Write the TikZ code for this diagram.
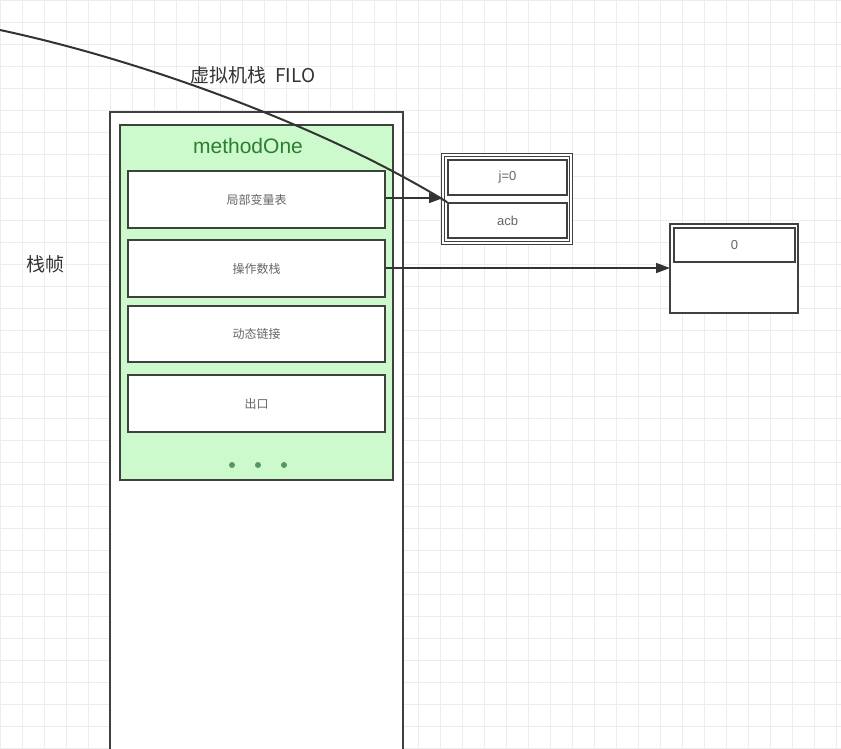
\documentclass[tikz,border=0pt]{standalone}
\usepackage{fontspec}
\setmainfont{Liberation Sans}
\newfontfamily\cjk{Noto Sans CJK SC}
\usetikzlibrary{arrows.meta}
\definecolor{gfill}{HTML}{CCFACC}
\definecolor{gtext}{HTML}{2E7D32}
\tikzset{
  box/.style={draw=black!75,line width=1.6pt,fill=white},
  cell/.style={draw=black!75,line width=1.6pt,fill=white,inner sep=0pt,font=\cjk\fontsize{12}{14}\selectfont,text=black!60},
  arr/.style={draw=black!80,line width=1.5pt,-{Triangle[length=14pt,width=10pt]}},
}
\begin{document}
\begin{tikzpicture}[x=1pt,y=-1pt]
\useasboundingbox (0,0) rectangle (841,748);
\foreach \g in {0,22,...,840} \draw[black!7] (\g,0) -- (\g,748);
\foreach \g in {0,22,...,748} \draw[black!7] (0,\g) -- (841,\g);
% outer stack
\draw[box,line width=2pt] (110,112) rectangle (403,752);
\node[font=\cjk\fontsize{19}{22}\selectfont,text=black!80] (title) at (253,75) {虚拟机栈\ \ FILO};
\node[font=\cjk\fontsize{19}{22}\selectfont,text=black!80] (frame) at (46,264) {栈帧};
\draw[draw=black!75,line width=2pt,fill=gfill] (120,125) rectangle (393,480);
\node[font=\fontsize{21}{24}\selectfont,text=gtext] (m) at (248,146) {methodOne};
\node[cell,minimum width=257pt,minimum height=57pt] (lv) at (256.5,199.5) {局部变量表};
\node[cell,minimum width=257pt,minimum height=57pt] (os) at (256.5,268.5) {操作数栈};
\node[cell,minimum width=257pt,minimum height=56pt] (dl) at (256.5,334) {动态链接};
\node[cell,minimum width=257pt,minimum height=57pt] (ex) at (256.5,403.5) {出口};
\foreach \x in {232,258,284} \fill[gtext!80] (\x,465) circle (3pt);
% array box
\draw[box,double=white,double distance=2pt,line width=1.2pt] (443,155) rectangle (571,243);
\node[cell,font=\fontsize{13}{15}\selectfont,minimum width=119pt,minimum height=35pt] (j) at (507.5,177.5) {j=0};
\node[cell,font=\fontsize{13}{15}\selectfont,minimum width=119pt,minimum height=35pt] (acb) at (507.5,220.5) {acb};
% operand stack box
\draw[box,line width=2pt] (670,224) rectangle (798,313);
\node[cell,font=\fontsize{13}{15}\selectfont,minimum width=121pt,minimum height=34pt] (z) at (734.5,245) {0};
\coordinate (a1) at (443,198);
\coordinate (a2) at (670,268);
\draw[arr] (lv.east |- a1) -- (a1);
\draw[arr] (os.east |- a2) -- (a2);
\coordinate (s) at (0,30);
\draw[black!80,line width=2pt] (s) .. controls (150,62) and (330,130) .. (acb.north west);
\end{tikzpicture}
\end{document}
